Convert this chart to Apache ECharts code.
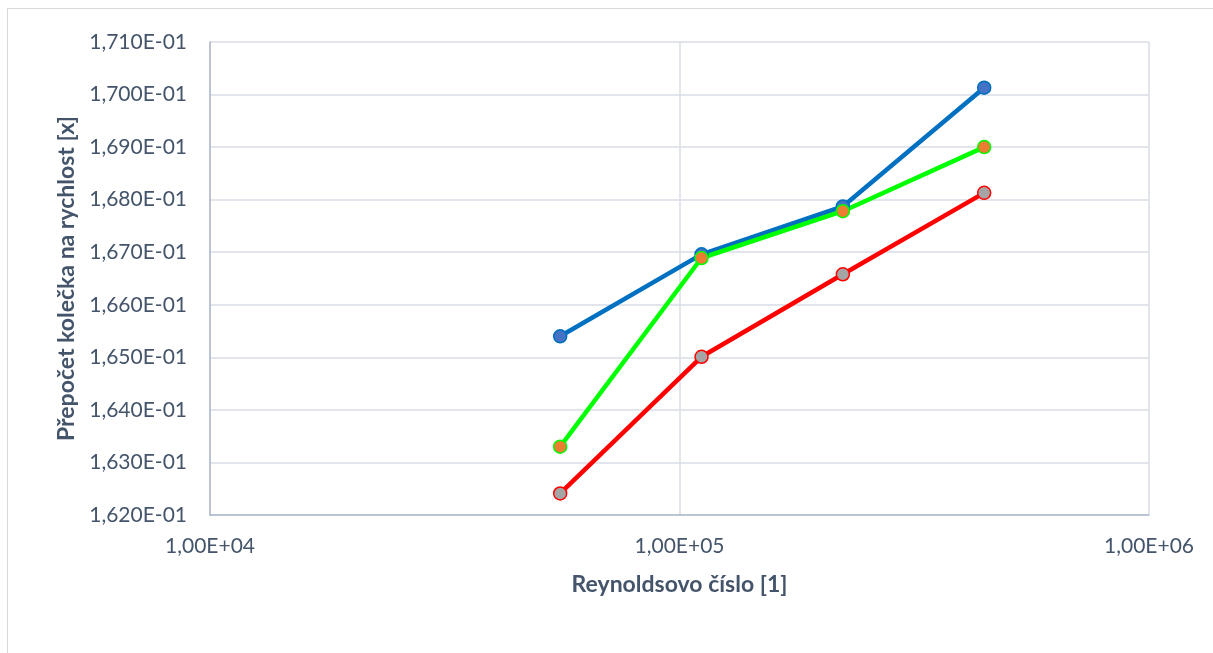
<!DOCTYPE html>
<html>
<head>
<meta charset="utf-8">
<style>
  html, body { margin: 0; padding: 0; background: #ffffff; }
  #frame { position: absolute; left: 7px; top: 8px; width: 1220px; height: 660px;
           border-left: 1px solid #d9d9d9; border-top: 1px solid #d9d9d9; box-sizing: border-box; }
  #chart { position: absolute; left: 0; top: 0; width: 1213px; height: 653px; }
</style>
<script src="https://cdn.jsdelivr.net/npm/echarts@6/dist/echarts.min.js"></script>
</head>
<body>
<div id="frame"></div>
<div id="chart"></div>
<script>
// Reynolds number for each measurement
const reynolds = [55700, 111400, 222800, 445600];
// Wheel-to-velocity conversion for the three measurement series
const seriesBlue  = [0.16540, 0.16696, 0.16787, 0.17013];
const seriesGreen = [0.16330, 0.16689, 0.16778, 0.16900];
const seriesRed   = [0.16241, 0.16501, 0.16658, 0.16813];

const xTitle = 'Reynoldsovo číslo [1]';
const yTitle = 'Přepočet kolečka na rychlost [x]';

const textColor = '#44546a';
const gridColor = '#d9dee6';
const axisColor = '#adb9ca';
const font = 'Lato, "Open Sans", sans-serif';

function pairs(ys) { return reynolds.map((x, i) => [x, ys[i]]); }

function fmtY(v) {
  return (v * 10).toFixed(3).replace('.', ',') + 'E-01';
}
function fmtX(v) {
  const e = Math.round(Math.log10(v));
  const m = v / Math.pow(10, e);
  return m.toFixed(2).replace('.', ',') + 'E+' + String(e).padStart(2, '0');
}

function lineSeries(name, ys, lineColor, fill) {
  return {
    name: name,
    type: 'line',
    data: pairs(ys),
    symbol: 'circle',
    symbolSize: 13,
    lineStyle: { color: lineColor, width: 4.5 },
    itemStyle: { color: fill, borderColor: lineColor, borderWidth: 1.5 },
    emphasis: { disabled: true },
    z: 3
  };
}

const chart = echarts.init(document.getElementById('chart'));
chart.setOption({
  animation: false,
  backgroundColor: 'transparent',
  grid: { left: 210, right: 64, top: 42, bottom: 138, containLabel: false },
  xAxis: {
    type: 'log',
    logBase: 10,
    min: 10000,
    max: 1000000,
    name: xTitle,
    nameLocation: 'middle',
    nameGap: 58,
    nameTextStyle: { color: textColor, fontFamily: font, fontSize: 23, fontWeight: 'bold' },
    axisLine: { show: true, lineStyle: { color: axisColor, width: 1.5 } },
    axisTick: { show: false },
    axisLabel: { color: textColor, fontFamily: font, fontSize: 21, margin: 21, formatter: fmtX },
    splitLine: { show: true, lineStyle: { color: gridColor, width: 1.5 } },
    minorTick: { show: false },
    minorSplitLine: { show: false }
  },
  yAxis: {
    type: 'value',
    min: 0.162,
    max: 0.171,
    interval: 0.001,
    name: yTitle,
    nameLocation: 'middle',
    nameGap: 125,
    nameTextStyle: { color: textColor, fontFamily: font, fontSize: 23, fontWeight: 'bold' },
    axisLine: { show: true, lineStyle: { color: axisColor, width: 1.5 } },
    axisTick: { show: false },
    axisLabel: { color: textColor, fontFamily: font, fontSize: 21, margin: 23, formatter: fmtY },
    splitLine: { show: true, lineStyle: { color: gridColor, width: 1.5 } }
  },
  series: [
    lineSeries('Měření 1', seriesBlue, '#0070c0', '#4472c4'),
    lineSeries('Měření 2', seriesGreen, '#00ff00', '#ed7d31'),
    lineSeries('Měření 3', seriesRed, '#ff0000', '#a5a5a5')
  ]
});
</script>
</body>
</html>
